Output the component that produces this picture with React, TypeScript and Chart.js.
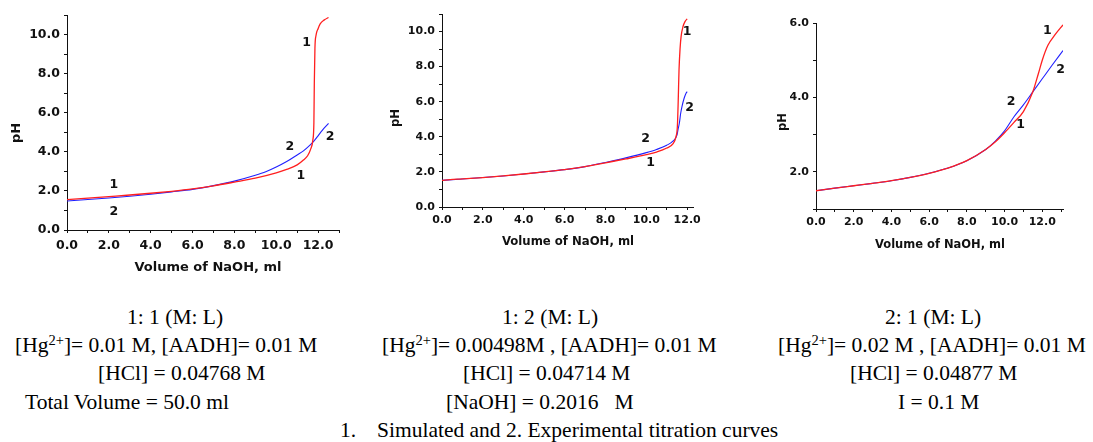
import React, { useEffect, useRef } from 'react';
import { Chart, registerables } from 'chart.js';

Chart.register(...registerables);

// ---------- Data: 1:1 (M:L) ----------
const c1SimVolume = [0, 1, 2, 3, 4, 5, 6, 7, 8, 9, 10, 10.5, 11, 11.3, 11.5, 11.65, 11.75, 11.8, 11.82, 11.85, 11.9, 12.0, 12.1, 12.3, 12.5];
const c1SimPH = [1.55, 1.63, 1.71, 1.79, 1.88, 1.98, 2.1, 2.26, 2.45, 2.65, 2.92, 3.1, 3.33, 3.58, 3.8, 4.15, 4.6, 5.5, 7.5, 9.3, 9.95, 10.3, 10.55, 10.75, 10.87];
const c1ExpVolume = [0, 1, 2, 3, 4, 5, 6, 7, 8, 9, 9.5, 10, 10.5, 11, 11.3, 11.6, 11.8, 12.0, 12.2, 12.5];
const c1ExpPH = [1.48, 1.56, 1.64, 1.73, 1.83, 1.95, 2.08, 2.27, 2.5, 2.8, 2.98, 3.22, 3.5, 3.84, 4.05, 4.33, 4.55, 4.82, 5.1, 5.45];
const c1LabelText = ['1', '2', '2', '1', '1', '2'];
const c1LabelVolume = [2.24, 2.24, 10.65, 11.18, 11.45, 12.57];
const c1LabelPH = [2.3, 0.94, 4.25, 2.8, 9.6, 4.76];

// ---------- Data: 1:2 (M:L) ----------
const c2SimVolume = [0, 0.4, 1, 2, 3, 4, 5, 6, 7, 8, 9, 10, 10.5, 11, 11.3, 11.45, 11.52, 11.56, 11.6, 11.65, 11.7, 11.8, 11.9, 12.0];
const c2SimPH = [1.52, 1.56, 1.6, 1.68, 1.77, 1.88, 2.0, 2.13, 2.3, 2.52, 2.74, 2.98, 3.13, 3.36, 3.6, 4.0, 4.6, 6.0, 7.8, 9.0, 9.7, 10.3, 10.58, 10.72];
const c2ExpVolume = [0, 1, 2, 3, 4, 5, 6, 7, 8, 9, 10, 10.5, 11, 11.3, 11.5, 11.55, 11.62, 11.68, 11.75, 11.85, 11.95, 12.0];
const c2ExpPH = [1.52, 1.6, 1.68, 1.77, 1.88, 2.0, 2.13, 2.3, 2.54, 2.8, 3.1, 3.28, 3.52, 3.75, 4.1, 4.4, 4.8, 5.33, 5.75, 6.2, 6.5, 6.57];
const c2LabelText = ['1', '2', '2', '1'];
const c2LabelVolume = [12.0, 12.12, 9.97, 10.21];
const c2LabelPH = [10.0, 5.68, 3.9, 2.51];

// ---------- Data: 2:1 (M:L) ----------
const c3SimVolume = [0, 1, 2, 3, 4, 5, 6, 7, 8, 9, 9.5, 10, 10.5, 11, 11.5, 11.8, 12.0, 12.3, 12.7, 13.1];
const c3SimPH = [1.49, 1.56, 1.625, 1.69, 1.76, 1.85, 1.96, 2.1, 2.3, 2.6, 2.8, 3.05, 3.33, 3.62, 4.15, 4.65, 5.0, 5.4, 5.7, 5.95];
const c3ExpVolume = [0, 1, 2, 3, 4, 5, 6, 7, 8, 9, 9.5, 10, 10.5, 11, 11.5, 12.0, 12.5, 13.1];
const c3ExpPH = [1.49, 1.56, 1.625, 1.69, 1.76, 1.85, 1.96, 2.1, 2.3, 2.6, 2.82, 3.1, 3.48, 3.8, 4.15, 4.5, 4.85, 5.26];
const c3LabelText = ['1', '2', '2', '1'];
const c3LabelVolume = [12.27, 12.97, 10.35, 10.85];
const c3LabelPH = [5.78, 4.75, 3.89, 3.26];

const xAxisTitle = 'Volume of NaOH, ml';
const yAxisTitle = 'pH';

const RED = '#ff1f1f';
const BLUE = '#2020ff';
const FONT = '"DejaVu Sans", sans-serif';

type Spec = {
  left: number; top: number; w: number; h: number;
  sim: [number[], number[]]; exp: [number[], number[]];
  labels: [string[], number[], number[]];
  xMax: number; yMin: number; yMax: number;
  yWidth: number; xHeight: number;
  pad: { top: number; right: number; bottom: number; left: number };
  tickSize: number; titleSize: number; labelSize: number; xTickPad: number;
  xTitlePos: [number, number]; yTitlePos: [number, number];
};

const zip = (xs: number[], ys: number[]) => xs.map((x, i) => ({ x, y: ys[i] }));

function makeOverlay(spec: Spec) {
  return {
    id: 'overlay',
    afterDatasetsDraw(chart: any) {
      const { ctx } = chart;
      const xs = chart.scales.x;
      const ys = chart.scales.y;
      ctx.save();
      ctx.fillStyle = '#111';
      ctx.textAlign = 'center';
      ctx.textBaseline = 'middle';
      ctx.font = `bold ${spec.labelSize}px ${FONT}`;
      const [t, lx, ly] = spec.labels;
      t.forEach((s, i) => ctx.fillText(s, xs.getPixelForValue(lx[i]), ys.getPixelForValue(ly[i])));
      ctx.font = `bold ${spec.titleSize}px ${FONT}`;
      ctx.fillText(xAxisTitle, spec.xTitlePos[0], spec.xTitlePos[1]);
      ctx.translate(spec.yTitlePos[0], spec.yTitlePos[1]);
      ctx.rotate(-Math.PI / 2);
      ctx.fillText(yAxisTitle, 0, 0);
      ctx.restore();
    },
  };
}

function TitrationChart({ spec }: { spec: Spec }) {
  const ref = useRef<HTMLCanvasElement>(null);
  useEffect(() => {
    const tickFont = { family: FONT, size: spec.tickSize, weight: 'bold' as const };
    const chart = new Chart(ref.current!, {
      type: 'line',
      data: {
        datasets: [
          {
            data: zip(spec.sim[0], spec.sim[1]),
            borderColor: RED, borderWidth: 1.3, pointRadius: 0,
            cubicInterpolationMode: 'monotone', fill: false,
          },
          {
            data: zip(spec.exp[0], spec.exp[1]),
            borderColor: BLUE, borderWidth: 1.1, pointRadius: 0,
            cubicInterpolationMode: 'monotone', fill: false,
          },
        ],
      },
      options: {
        responsive: false,
        animation: false,
        devicePixelRatio: 1,
        layout: { padding: spec.pad },
        plugins: { legend: { display: false }, tooltip: { enabled: false } },
        scales: {
          x: {
            type: 'linear', min: 0, max: spec.xMax,
            grid: { drawOnChartArea: false, drawTicks: true, tickLength: 3, color: '#111' },
            border: { display: true, color: '#111', width: 1 },
            ticks: {
              stepSize: 1, autoSkip: false, maxRotation: 0, includeBounds: false,
              padding: spec.xTickPad, color: '#111', font: tickFont,
              callback: (v: any) => (Math.round(v) % 2 === 0 ? Number(v).toFixed(1) : ''),
            },
            afterFit: (s: any) => { s.height = spec.xHeight; },
          },
          y: {
            type: 'linear', min: spec.yMin, max: spec.yMax,
            grid: { drawOnChartArea: false, drawTicks: true, tickLength: 3, color: '#111' },
            border: { display: true, color: '#111', width: 1 },
            ticks: {
              stepSize: 1, autoSkip: false, includeBounds: false,
              padding: 4, color: '#111', font: tickFont,
              callback: (v: any) => (Math.round(v) % 2 === 0 ? Number(v).toFixed(1) : ''),
            },
            afterFit: (s: any) => { s.width = spec.yWidth; },
          },
        },
      },
      plugins: [makeOverlay(spec)],
    } as any);
    return () => chart.destroy();
  }, []);
  return (
    <canvas
      ref={ref}
      width={spec.w}
      height={spec.h}
      style={{ position: 'absolute', left: spec.left, top: spec.top, width: spec.w, height: spec.h }}
    />
  );
}

const specs: Spec[] = [
  {
    left: 0, top: 0, w: 345, h: 290,
    sim: [c1SimVolume, c1SimPH], exp: [c1ExpVolume, c1ExpPH],
    labels: [c1LabelText, c1LabelVolume, c1LabelPH],
    xMax: 13, yMin: 0, yMax: 11,
    yWidth: 67, xHeight: 40,
    pad: { top: 15, right: 6, bottom: 20, left: 0 },
    tickSize: 12.5, titleSize: 13, labelSize: 12.5, xTickPad: 5,
    xTitlePos: [208, 268], yTitlePos: [17, 133],
  },
  {
    left: 370, top: 0, w: 335, h: 265,
    sim: [c2SimVolume, c2SimPH], exp: [c2ExpVolume, c2ExpPH],
    labels: [c2LabelText, c2LabelVolume, c2LabelPH],
    xMax: 12.3, yMin: 0, yMax: 11,
    yWidth: 72, xHeight: 40,
    pad: { top: 14, right: 10, bottom: 18, left: 0 },
    tickSize: 11, titleSize: 11.7, labelSize: 12.5, xTickPad: 4,
    xTitlePos: [198, 242], yTitlePos: [26, 118],
  },
  {
    left: 760, top: 0, w: 333, h: 265,
    sim: [c3SimVolume, c3SimPH], exp: [c3ExpVolume, c3ExpPH],
    labels: [c3LabelText, c3LabelVolume, c3LabelPH],
    xMax: 13.1, yMin: 1, yMax: 6,
    yWidth: 56, xHeight: 40,
    pad: { top: 23, right: 30, bottom: 16, left: 0 },
    tickSize: 11, titleSize: 11.5, labelSize: 12.5, xTickPad: 4,
    xTitlePos: [180, 245], yTitlePos: [23, 122],
  },
];

const SERIF = '"Liberation Serif", "Times New Roman", serif';
const FS = 21.5;

function Line({ left, baseline, children }: { left: number; baseline: number; children: React.ReactNode }) {
  return (
    <div
      style={{
        position: 'absolute', left, top: baseline - 18, fontFamily: SERIF, fontSize: FS,
        lineHeight: 1, whiteSpace: 'pre', color: '#000',
      }}
    >
      {children}
    </div>
  );
}

const Sup = ({ children }: { children: React.ReactNode }) => (
  <span style={{ fontSize: 14.5, position: 'relative', top: -7, lineHeight: 0 }}>{children}</span>
);

export default function App() {
  const b = [325, 353, 381, 410, 438];
  return (
    <div style={{ position: 'fixed', left: 0, top: 0, width: 1093, height: 442, background: '#fff', overflow: 'hidden' }}>
      {specs.map((s, i) => (
        <TitrationChart key={i} spec={s} />
      ))}
      <Line left={127} baseline={b[0]}>1: 1 (M: L)</Line>
      <Line left={15} baseline={b[1]}>[Hg<Sup>2+</Sup>]= 0.01 M, [AADH]= 0.01 M</Line>
      <Line left={98} baseline={b[2]}>[HCl] = 0.04768 M</Line>
      <Line left={25} baseline={b[3]}>Total Volume = 50.0 ml</Line>

      <Line left={502} baseline={b[0]}>1: 2 (M: L)</Line>
      <Line left={382} baseline={b[1]}>[Hg<Sup>2+</Sup>]= 0.00498M , [AADH]= 0.01 M</Line>
      <Line left={463} baseline={b[2]}>[HCl] = 0.04714 M</Line>
      <Line left={446} baseline={b[3]}>[NaOH] = 0.2016   M</Line>
      <Line left={340} baseline={b[4]}>1.</Line>
      <Line left={377} baseline={b[4]}>Simulated and 2. Experimental titration curves</Line>

      <Line left={885} baseline={b[0]}>2: 1 (M: L)</Line>
      <Line left={778} baseline={b[1]}>[Hg<Sup>2+</Sup>]= 0.02 M , [AADH]= 0.01 M</Line>
      <Line left={850} baseline={b[2]}>[HCl] = 0.04877 M</Line>
      <Line left={898} baseline={b[3]}>I = 0.1 M</Line>
    </div>
  );
}
